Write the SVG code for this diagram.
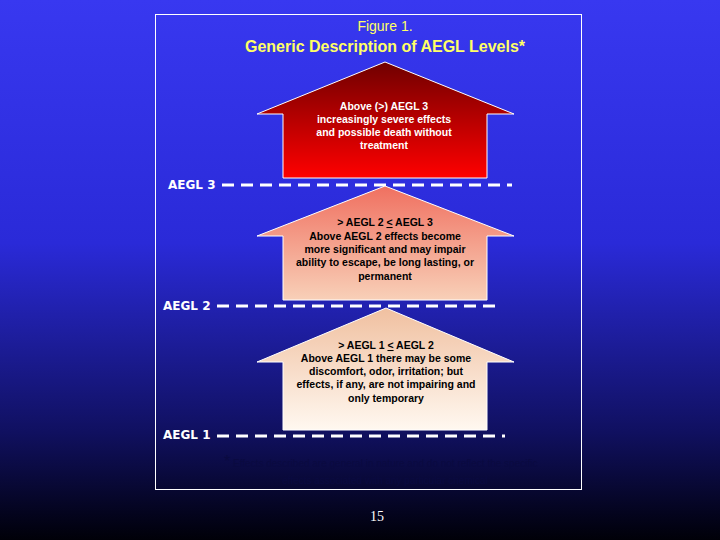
<svg xmlns="http://www.w3.org/2000/svg" width="720" height="540" viewBox="0 0 720 540">
<defs>
<linearGradient id="bg" x1="0" y1="0" x2="0" y2="1"><stop offset="0" stop-color="#3838f0"/><stop offset="0.45" stop-color="#2a2ad8"/><stop offset="0.8" stop-color="#101060"/><stop offset="1" stop-color="#000008"/></linearGradient>
<linearGradient id="g3" x1="0" y1="0" x2="0" y2="1"><stop offset="0" stop-color="#700000"/><stop offset="1" stop-color="#ff0000"/></linearGradient>
<linearGradient id="g2" x1="0" y1="0" x2="0" y2="1"><stop offset="0" stop-color="#f07060"/><stop offset="1" stop-color="#f8d0b8"/></linearGradient>
<linearGradient id="g1" x1="0" y1="0" x2="0" y2="1"><stop offset="0" stop-color="#f0c0a0"/><stop offset="1" stop-color="#fff8f0"/></linearGradient>
<style>
.arr{stroke:#fff;stroke-width:1}
.t{font-family:"Liberation Sans",Arial,sans-serif;font-weight:bold;font-size:10.5px;text-anchor:middle}
.lbl{font-family:"DejaVu Sans",sans-serif;font-weight:bold;font-size:12px;fill:#fff}
.dash{stroke:#fff;stroke-width:3;stroke-dasharray:12 7;fill:none}
</style>
</defs>
<rect width="720" height="540" fill="url(#bg)"/>
<rect x="155.5" y="14.5" width="426" height="475" fill="none" stroke="#fff" stroke-width="1"/>
<g id="title" font-family="Liberation Sans,Arial,sans-serif" fill="#ffff66" text-anchor="middle">
<text x="385" y="31" font-size="14">Figure 1.</text>
<text x="385" y="52" font-size="16" font-weight="bold">Generic Description of AEGL Levels*</text>
</g>
<g id="connectors">
<line class="dash" x1="222" y1="185" x2="512" y2="185"/>
<line class="dash" x1="217" y1="306" x2="500" y2="306"/>
<line class="dash" x1="217" y1="436" x2="505" y2="436"/>
</g>
<g id="arrow3">
<polygon class="arr" fill="url(#g3)" points="385,62 514,114 487,114 487,178 283,178 283,114 257,114"/>
<g class="t" fill="#fff"><text x="384" y="110">Above (&gt;) AEGL 3</text><text x="384" y="123">increasingly severe effects</text><text x="384" y="136">and possible death without</text><text x="384" y="149">treatment</text></g>
</g>
<g id="arrow2">
<polygon class="arr" fill="url(#g2)" points="385,186 514,236 487,236 487,300 283,300 283,236 257,236"/>
<g class="t" fill="#000"><text x="385" y="226">&gt; AEGL 2 <tspan text-decoration="underline">&lt;</tspan> AEGL 3</text><text x="385" y="240">Above AEGL 2 effects become</text><text x="385" y="253">more significant and may impair</text><text x="385" y="266">ability to escape, be long lasting, or</text><text x="385" y="280">permanent</text></g>
</g>
<g id="arrow1">
<polygon class="arr" fill="url(#g1)" points="386,308 514,362 487,362 487,430 283,430 283,362 257,362"/>
<g class="t" fill="#000"><text x="386" y="349">&gt; AEGL 1 <tspan text-decoration="underline">&lt;</tspan> AEGL 2</text><text x="386" y="362">Above AEGL 1 there may be some</text><text x="386" y="375">discomfort, odor, irritation; but</text><text x="386" y="388">effects, if any, are  not impairing and</text><text x="386" y="402">only temporary</text></g>
</g>
<g id="labels">
<text class="lbl" x="168" y="189">AEGL 3</text>
<text class="lbl" x="163" y="310">AEGL 2</text>
<text class="lbl" x="163" y="439">AEGL 1</text>
</g>
<g id="footnote" font-family="Liberation Sans,Arial,sans-serif" fill="#0a0a40">
<text x="224" y="467" font-size="16">*</text>
<text x="233" y="467" font-size="10">Effects described are general in nature and do not reflect the specific</text>
<text x="385" y="484" font-size="10" text-anchor="middle">effects associated with any particular chemical</text>
</g>
<text x="377" y="521" font-family="Liberation Serif,serif" font-size="14" fill="#fff" text-anchor="middle">15</text>
</svg>
